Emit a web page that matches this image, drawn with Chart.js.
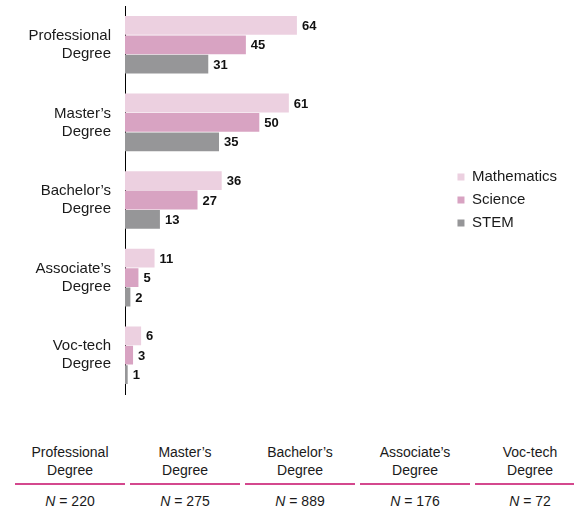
<!DOCTYPE html>
<html>
<head>
<meta charset="utf-8">
<script src="https://cdn.jsdelivr.net/npm/chart.js@4/dist/chart.umd.min.js"></script>
<style>
  body { margin: 0; background: #fff; font-family: "Liberation Sans", Arial, sans-serif; }
  #wrap { position: relative; width: 574px; height: 510px; overflow: hidden; }
  #chart-box { position: absolute; left: 0; top: 0; width: 574px; height: 400px; }
  .col { position: absolute; top: 443px; width: 110px; text-align: center; font-size: 14px; color: #1a1a1a; }
  .col .head { line-height: 18px; padding-bottom: 4px; border-bottom: 2px solid #d4488e; }
  .col .n { line-height: 18px; margin-top: 7px; }
</style>
</head>
<body>
<div id="wrap">
  <div id="chart-box"><canvas id="degree-chart"></canvas></div>
  <div id="table"></div>
</div>
<script>
var categories = [
  ['Professional', 'Degree'],
  ['Master\u2019s', 'Degree'],
  ['Bachelor\u2019s', 'Degree'],
  ['Associate\u2019s', 'Degree'],
  ['Voc-tech', 'Degree']
];
var mathematics = [64, 61, 36, 11, 6];
var science = [45, 50, 27, 5, 3];
var stem = [31, 35, 13, 2, 1];
var sampleSizes = [220, 275, 889, 176, 72];

// bar end labels
var valueLabels = {
  id: 'valueLabels',
  afterDatasetsDraw: function (chart) {
    var ctx = chart.ctx;
    ctx.save();
    ctx.font = 'bold 13px "Liberation Sans", Arial, sans-serif';
    ctx.fillStyle = '#111';
    ctx.textAlign = 'left';
    ctx.textBaseline = 'middle';
    chart.data.datasets.forEach(function (ds, i) {
      chart.getDatasetMeta(i).data.forEach(function (bar, j) {
        ctx.fillText(ds.data[j], bar.x + 5, bar.y + 1);
      });
    });
    ctx.restore();
  }
};

var ctx = document.getElementById('degree-chart').getContext('2d');
var chart = new Chart(ctx, {
  type: 'bar',
  data: {
    labels: categories,
    datasets: [
      { label: 'Mathematics', data: mathematics, backgroundColor: 'rgb(236, 208, 224)' },
      { label: 'Science', data: science, backgroundColor: 'rgb(216, 163, 194)' },
      { label: 'STEM', data: stem, backgroundColor: 'rgb(150, 150, 152)' }
    ]
  },
  options: {
    indexAxis: 'y',
    responsive: true,
    maintainAspectRatio: false,
    animation: false,
    datasets: {
      bar: { categoryPercentage: 0.75, barPercentage: 0.97 }
    },
    layout: { padding: { top: 6, bottom: 6, left: 0, right: 7 } },
    scales: {
      x: { display: false, min: 0, max: 120.8 },
      y: {
        afterFit: function (scale) {
          scale.width = 125;
          scale.paddingTop = 0;
          scale.paddingBottom = 0;
        },
        grid: { display: false, drawTicks: false },
        border: { display: true, color: '#000', width: 1 },
        ticks: {
          padding: 14,
          color: '#1a1a1a',
          font: { family: '"Liberation Sans", Arial, sans-serif', size: 15 }
        }
      }
    },
    plugins: {
      tooltip: { enabled: false },
      legend: {
        position: 'right',
        labels: {
          boxWidth: 7,
          boxHeight: 7,
          padding: 8,
          color: '#1a1a1a',
          font: { family: '"Liberation Sans", Arial, sans-serif', size: 15 }
        }
      }
    }
  },
  plugins: [valueLabels]
});

// sample size table under the chart
var table = document.getElementById('table');
categories.forEach(function (cat, i) {
  var col = document.createElement('div');
  col.className = 'col';
  col.style.left = (15 + i * 115) + 'px';
  col.innerHTML = '<div class="head">' + cat.join('<br>') + '</div>' +
    '<div class="n"><i>N</i> = ' + sampleSizes[i] + '</div>';
  table.appendChild(col);
});
</script>
</body>
</html>
